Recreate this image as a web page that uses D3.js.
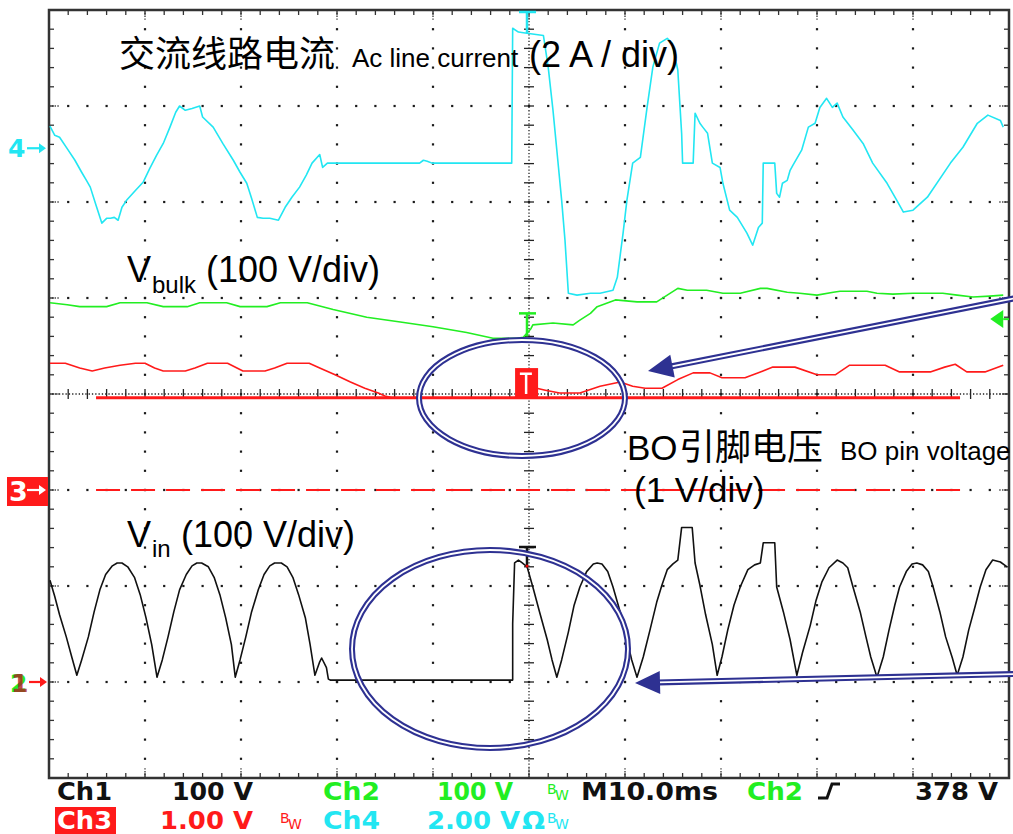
<!DOCTYPE html>
<html lang="zh">
<head>
<meta charset="UTF-8">
<title>BO pin waveform</title>
<script src="https://cdn.jsdelivr.net/npm/d3@7"></script>
<style>
  body { margin: 0; background: #fff; }
  svg { display: block; }
  .lat { font-family: "Liberation Sans", Arial, sans-serif; fill: #000; }
  .cjk { font-family: "Noto Sans CJK SC", sans-serif; fill: #000; }
  .scope { font-family: "DejaVu Sans", sans-serif; font-weight: bold; }
</style>
</head>
<body>
<script>
// 时基与垂直刻度: 10 ms/div, 8 div
const timeRange = [-50, 50];
const divRange = [-4, 4];
// 每通道 单位/div 和 地电平位置(div)
const unitsPerDiv = { ch1: 100, ch2: 100, ch3: 1, ch4: 2 };
const groundDiv = { ch1: -3, ch2: -3, ch3: -1, ch4: 2.56 };

// Ch4 交流线路电流 [ms, A]
const lineCurrent = [
  [-49.9, 0.46], [-49.4, 0.27], [-48.9, 0.23], [-48.0, -0.04], [-47.3, -0.25], [-46.6, -0.5],
  [-46.1, -0.67], [-45.7, -0.81], [-45.1, -1.19], [-44.5, -1.56], [-44.0, -1.46], [-43.6, -1.46],
  [-43.2, -1.44], [-42.8, -1.5], [-42.4, -1.23], [-41.9, -1.08], [-41.0, -0.88], [-40.2, -0.71],
  [-39.5, -0.42], [-38.8, -0.15], [-38.1, 0.1], [-37.4, 0.44], [-36.8, 0.75], [-36.4, 0.88],
  [-35.8, 0.79], [-35.1, 0.83], [-34.3, 0.88], [-34.0, 0.65], [-32.9, 0.44], [-31.9, 0.1],
  [-30.8, -0.25], [-30.1, -0.5], [-29.4, -0.73], [-28.9, -1.04], [-28.3, -1.44], [-27.7, -1.46],
  [-27.0, -1.46], [-26.1, -1.5], [-25.4, -1.23], [-24.7, -1.02], [-23.9, -0.81], [-23.2, -0.56],
  [-22.6, -0.31], [-21.8, -0.13], [-21.5, -0.4], [-21.0, -0.31], [-20.7, -0.31], [-11.4, -0.31],
  [-11.0, -0.25], [-10.6, -0.27], [-10.1, -0.31], [-1.8, -0.31], [-1.7, 2.5], [-1.1, 2.42],
  [-0.4, 2.4], [1.5, 2.35], [2.0, 1.69], [2.5, 0.79], [3.0, -0.25], [3.4, -1.08], [3.75, -1.92],
  [4.1, -3.02], [5.0, -3.06], [6.4, -3.02], [7.4, -3.02], [8.75, -2.96], [9.2, -2.69], [9.8, -1.77],
  [10.2, -1.08], [10.8, -0.31], [11.6, -0.19], [12.3, 0.85], [12.9, 1.69], [13.6, 2.19], [14.4, 2.29],
  [14.9, 2.19], [15.5, 1.63], [15.9, 0.31], [16.0, -0.31], [17.1, -0.31], [17.3, 0.73], [17.8, 0.52],
  [18.1, 0.44], [18.6, 0.31], [19.1, -0.31], [19.9, -0.4], [20.2, -0.73], [20.9, -1.29], [21.7, -1.44],
  [22.7, -1.77], [23.3, -2.02], [23.9, -1.65], [24.3, -1.56], [24.4, -0.31], [25.6, -0.31], [25.8, -0.94],
  [26.1, -1.02], [26.4, -0.73], [26.9, -0.67], [27.2, -0.46], [27.5, -0.35], [28.4, -0.04], [29.1, 0.44],
  [29.8, 0.52], [30.3, 0.85], [31.0, 1.04], [31.6, 0.85], [32.1, 0.94], [32.7, 0.65], [33.75, 0.38],
  [34.8, 0.1], [35.8, -0.31], [37.3, -0.73], [38.3, -1.08], [39.0, -1.33], [40.0, -1.29], [41.5, -1.02],
  [43.9, -0.31], [45.2, 0.02], [46.7, 0.52], [47.8, 0.69], [49.1, 0.58], [49.4, 0.44]
];

// Ch2 Vbulk [ms, V]
const vBulk = [
  [-49.9, 395], [-48.1, 393], [-46.8, 391], [-44.0, 391], [-42.6, 395], [-39.8, 395], [-38.1, 391],
  [-35.6, 391], [-34.3, 395], [-31.5, 395], [-30.1, 391], [-27.3, 391], [-25.9, 395], [-23.1, 395],
  [-20.4, 388], [-16.9, 380], [-13.4, 375], [-10.0, 370], [-6.5, 364], [-3.75, 358], [-1.25, 358],
  [-0.6, 359], [0.2, 368], [0.4, 372], [2.5, 374], [4.6, 372], [5.3, 377], [6.4, 384], [7.1, 391],
  [9.0, 398], [11.25, 396], [13.3, 396], [15.5, 410], [16.5, 408], [18.5, 408], [20.2, 405],
  [22.0, 405], [24.1, 410], [24.8, 410], [26.9, 406], [28.2, 405], [30.0, 403], [31.7, 406],
  [32.4, 407], [35.2, 407], [36.25, 405], [37.9, 404], [40.0, 405], [43.1, 405], [44.6, 403],
  [46.25, 401], [48.0, 402], [49.4, 403]
];

// Ch3 BO引脚电压 [ms, V]
const boPin = [
  [-49.9, 1.32], [-48.3, 1.32], [-46.8, 1.27], [-45.5, 1.24], [-44.2, 1.27], [-42.6, 1.3], [-41.0, 1.32],
  [-40.0, 1.32], [-39.0, 1.27], [-38.1, 1.24], [-35.8, 1.24], [-34.8, 1.27], [-33.5, 1.32], [-31.4, 1.32],
  [-29.8, 1.24], [-27.5, 1.24], [-26.5, 1.27], [-25.2, 1.32], [-22.9, 1.32], [-21.8, 1.27], [-20.2, 1.2],
  [-18.6, 1.125], [-17.1, 1.06], [-15.7, 1.01], [-15.0, 0.98], [-14.3, 0.96], [-1.5, 0.96], [0.8, 1.06],
  [1.7, 1.04], [3.2, 1.01], [5.3, 1.01], [7.4, 1.08], [9.5, 1.125], [10.8, 1.08], [12.1, 1.06],
  [13.85, 1.06], [15.5, 1.15], [17.1, 1.22], [18.85, 1.22], [20.1, 1.17], [22.5, 1.17], [24.1, 1.23],
  [25.4, 1.28], [27.7, 1.28], [30.0, 1.2], [31.9, 1.2], [33.4, 1.3], [37.1, 1.3], [38.6, 1.23],
  [41.8, 1.23], [43.3, 1.28], [44.4, 1.31], [45.6, 1.23], [47.5, 1.23], [49.4, 1.3]
];
// Ch3 参考线: 实线电平与 0 V 虚线 [起 ms, 止 ms, V]
const boRefSolid = [-45.1, 44.9, 0.96];
const boRefDashed = [-45.1, 44.9, 0];

// Ch1 Vin [ms, V]
const vIn = [
  [-49.9, 106], [-49.4, 89], [-48.9, 70], [-48.2, 47], [-47.6, 25], [-47.1, 7], [-46.6, 23], [-45.9, 47],
  [-45.3, 73], [-44.7, 96], [-44.1, 112], [-43.4, 121], [-42.9, 124], [-42.4, 124], [-41.8, 120],
  [-41.1, 109], [-40.5, 91], [-39.9, 67], [-39.3, 39], [-38.75, 5], [-38.2, 23], [-37.6, 47], [-37.0, 73],
  [-36.4, 96], [-35.7, 112], [-35.1, 121], [-34.6, 124], [-34.1, 124], [-33.4, 120], [-32.8, 109],
  [-32.2, 91], [-31.6, 67], [-31.0, 39], [-30.6, 5], [-30.1, 23], [-29.5, 47], [-28.9, 73], [-28.2, 96],
  [-27.6, 112], [-27.0, 121], [-26.5, 124], [-25.8, 124], [-25.2, 120], [-24.6, 109], [-24.0, 91],
  [-23.3, 67], [-22.8, 39], [-22.3, 7], [-21.8, 21], [-21.6, 25], [-21.1, 15], [-20.9, 3], [-20.7, 2],
  [-1.7, 2], [-1.7, 61], [-1.5, 124], [-1.1, 127], [-0.7, 124], [-0.2, 120], [0.4, 99], [1.1, 73],
  [1.9, 44], [2.4, 23], [2.9, 5], [3.4, 23], [4.1, 52], [4.7, 80], [5.3, 99], [6.0, 115], [6.7, 123],
  [7.1, 124], [7.6, 123], [8.2, 115], [8.75, 99], [9.5, 73], [10.2, 44], [10.7, 23], [11.25, 5],
  [11.9, 26], [12.6, 54], [13.3, 83], [13.85, 101], [14.4, 117], [15.0, 123], [15.5, 127], [15.9, 161],
  [17.0, 161], [17.3, 124], [17.8, 101], [18.4, 70], [19.1, 39], [19.6, 7], [20.1, 26], [20.7, 54],
  [21.35, 80], [22.0, 99], [22.8, 117], [23.5, 122], [24.1, 124], [24.4, 145], [25.6, 145], [25.8, 99],
  [26.5, 73], [27.2, 44], [27.9, 7], [28.5, 31], [29.3, 59], [29.9, 85], [30.5, 104], [31.25, 119],
  [32.1, 127], [32.7, 124], [33.2, 119], [33.75, 99], [34.5, 73], [35.1, 47], [35.6, 26], [36.25, 5],
  [36.9, 26], [37.5, 54], [38.1, 80], [38.6, 99], [39.3, 115], [39.9, 123], [40.4, 124], [41.0, 122],
  [41.6, 115], [42.1, 99], [42.8, 73], [43.4, 47], [44.1, 25], [44.6, 7], [45.2, 26], [45.8, 54],
  [46.5, 80], [47.0, 99], [47.6, 117], [48.3, 127], [49.1, 125], [49.8, 120]
];

const triggerLevel = 378; // V, Ch2

// 画布
const width = 1013, height = 834;
const plot = { left: 49, top: 10, width: 960, height: 768 };

const svg = d3.select('body').append('svg')
  .attr('width', width)
  .attr('height', height);

const x = d3.scaleLinear().domain(timeRange).range([plot.left, plot.left + plot.width]);
const y = d3.scaleLinear().domain(divRange).range([plot.top + plot.height, plot.top]);

function chY(ch) {
  return v => y(groundDiv[ch] + v / unitsPerDiv[ch]);
}

// ---- 网格 ----
const grid = svg.append('g').attr('fill', '#1a1a1a');
const majT = d3.range(-4, 5).map(i => i * 10).filter(t => t !== 0);
const majD = d3.range(-3, 4).filter(d => d !== 0);
const minT = d3.range(-24, 25).map(i => i * 2);
const minD = d3.range(-19, 20).map(i => i / 5);

const dots = [];
majT.forEach(t => minD.forEach(d => dots.push([t, d])));
majD.forEach(d => minT.forEach(t => dots.push([t, d])));
grid.selectAll('rect.dot').data(dots).enter().append('rect')
  .attr('class', 'dot')
  .attr('x', d => x(d[0]) - 1.1)
  .attr('y', d => y(d[1]) - 1.1)
  .attr('width', 2.2).attr('height', 2.2);

// 中心十字
const axis = svg.append('g').attr('stroke', '#222').attr('stroke-width', 1.3);
axis.append('line')
  .attr('x1', x(-50)).attr('x2', x(50)).attr('y1', y(0)).attr('y2', y(0))
  .attr('stroke-dasharray', '1.3,2');
axis.append('line')
  .attr('x1', x(0)).attr('x2', x(0)).attr('y1', y(-4)).attr('y2', y(4))
  .attr('stroke-dasharray', '1.3,2');
axis.selectAll('line.tx').data(minT.filter(t => t !== 0)).enter().append('line')
  .attr('x1', d => x(d)).attr('x2', d => x(d))
  .attr('y1', y(0) - 5).attr('y2', y(0) + 5);
axis.selectAll('line.ty').data(minD.filter(d => d !== 0)).enter().append('line')
  .attr('y1', d => y(d)).attr('y2', d => y(d))
  .attr('x1', x(0) - 5).attr('x2', x(0) + 5);

// 边框刻度
const edge = svg.append('g').attr('stroke', '#333').attr('stroke-width', 1.3);
minT.forEach(t => {
  edge.append('line').attr('x1', x(t)).attr('x2', x(t)).attr('y1', y(4)).attr('y2', y(4) + 5);
  edge.append('line').attr('x1', x(t)).attr('x2', x(t)).attr('y1', y(-4)).attr('y2', y(-4) - 5);
});
minD.forEach(d => {
  edge.append('line').attr('y1', y(d)).attr('y2', y(d)).attr('x1', x(-50)).attr('x2', x(-50) + 5);
  edge.append('line').attr('y1', y(d)).attr('y2', y(d)).attr('x1', x(50)).attr('x2', x(50) - 5);
});
majT.concat([0]).forEach(t => {
  edge.append('line').attr('x1', x(t)).attr('x2', x(t)).attr('y1', y(4)).attr('y2', y(4) + 11)
    .attr('stroke-dasharray', '1.3,1.5');
  edge.append('line').attr('x1', x(t)).attr('x2', x(t)).attr('y1', y(-4)).attr('y2', y(-4) - 11)
    .attr('stroke-dasharray', '1.3,1.5');
});
majD.concat([0]).forEach(d => {
  edge.append('line').attr('y1', y(d)).attr('y2', y(d)).attr('x1', x(-50)).attr('x2', x(-50) + 11)
    .attr('stroke-dasharray', '1.3,1.5');
  edge.append('line').attr('y1', y(d)).attr('y2', y(d)).attr('x1', x(50)).attr('x2', x(50) - 11)
    .attr('stroke-dasharray', '1.3,1.5');
});

svg.append('rect')
  .attr('x', plot.left).attr('y', plot.top)
  .attr('width', plot.width).attr('height', plot.height)
  .attr('fill', 'none').attr('stroke', '#333').attr('stroke-width', 2.5);

// ---- Ch3 参考线 ----
const y3 = chY('ch3');
svg.append('line')
  .attr('x1', x(boRefSolid[0])).attr('x2', x(boRefSolid[1]))
  .attr('y1', y3(boRefSolid[2])).attr('y2', y3(boRefSolid[2]))
  .attr('stroke', '#ff1a1a').attr('stroke-width', 3);
svg.append('line')
  .attr('x1', x(boRefDashed[0])).attr('x2', x(boRefDashed[1]))
  .attr('y1', y3(boRefDashed[2])).attr('y2', y3(boRefDashed[2]))
  .attr('stroke', '#ff1a1a').attr('stroke-width', 2.2)
  .attr('stroke-dasharray', '24,11');

// ---- 波形 ----
function trace(data, ch, color) {
  const yc = chY(ch);
  svg.append('path')
    .datum(data)
    .attr('fill', 'none')
    .attr('stroke', color)
    .attr('stroke-width', 1.6)
    .attr('stroke-linejoin', 'round')
    .attr('d', d3.line().x(d => x(d[0])).y(d => yc(d[1])));
}
trace(vBulk, 'ch2', '#22ee22');
trace(boPin, 'ch3', '#ff1a1a');
trace(lineCurrent, 'ch4', '#22e6f2');
trace(vIn, 'ch1', '#111');

// 触发位置标记 T
function tMark(yTop, yBot, color) {
  const g = svg.append('g').attr('stroke', color).attr('stroke-width', 2.5);
  g.append('line').attr('x1', x(0) - 10).attr('x2', x(0) + 7).attr('y1', yTop).attr('y2', yTop);
  g.append('line').attr('x1', x(0) - 2).attr('x2', x(0) - 2).attr('y1', yTop).attr('y2', yBot);
}
tMark(12, 33, '#22e6f2');
const y2 = chY('ch2');
tMark(y2(384), y2(360), '#22ee22');
tMark(547, 566, '#111');
svg.append('rect').attr('x', x(-1.45)).attr('y', y3(1.27))
  .attr('width', 23).attr('height', 29).attr('fill', '#ff1a1a');
svg.append('path')
  .attr('d', `M${x(-0.95)},${y3(1.21)}H${x(0.3)}M${x(-0.3)},${y3(1.21)}V${y3(1.0)}`)
  .attr('stroke', '#fff').attr('stroke-width', 2.5).attr('fill', 'none');
svg.append('circle').attr('cx', x(-0.2)).attr('cy', 566).attr('r', 1.5).attr('fill', '#e00');

// Ch2 触发电平箭头 (右侧)
const yTrig = y2(triggerLevel);
svg.append('path')
  .attr('d', `M${x(49.4) - 13},${yTrig}L${x(49.4)},${yTrig - 9}L${x(49.4)},${yTrig + 9}Z`)
  .attr('fill', '#22ee22');
svg.append('line').attr('x1', x(49.4)).attr('x2', x(50)).attr('y1', yTrig).attr('y2', yTrig)
  .attr('stroke', '#22ee22').attr('stroke-width', 2);

// ---- 左侧通道地标记 ----
function arrow(g, x0, x1, yy, color) {
  g.append('line').attr('x1', x0).attr('x2', x1 - 4).attr('y1', yy).attr('y2', yy)
    .attr('stroke', color).attr('stroke-width', 2.2);
  g.append('path').attr('d', `M${x1},${yy}L${x1 - 7},${yy - 5}L${x1 - 7},${yy + 5}Z`).attr('fill', color);
}
const mk = svg.append('g');
const y4g = chY('ch4')(0);
mk.append('text').attr('class', 'scope').attr('x', 8).attr('y', y4g + 9)
  .attr('font-size', 25).attr('fill', '#22e6f2').text('4');
arrow(mk, 27, 46, y4g, '#22e6f2');

const y3g = y3(0);
mk.append('rect').attr('x', 7).attr('y', y3g - 13).attr('width', 41).attr('height', 29).attr('fill', '#ff1a1a');
mk.append('text').attr('class', 'scope').attr('x', 9).attr('y', y3g + 11)
  .attr('font-size', 27).attr('fill', '#fff').text('3');
arrow(mk, 27, 46, y3g, '#fff');

const y1g = chY('ch1')(0);
mk.append('text').attr('class', 'scope').attr('x', 10).attr('y', y1g + 10)
  .attr('font-size', 25).attr('fill', '#22ee22').text('2');
mk.append('text').attr('class', 'scope').attr('x', 11).attr('y', y1g + 10)
  .attr('font-size', 25).attr('fill', '#b02020').attr('opacity', 0.8).text('1');
arrow(mk, 29, 47, y1g, '#ff1a1a');

// ---- 说明文字 ----
svg.append('text').attr('class', 'cjk').attr('x', 119).attr('y', 67)
  .attr('font-size', 36).text('交流线路电流');
svg.append('text').attr('class', 'lat').attr('x', 352).attr('y', 67)
  .attr('font-size', 26).text('Ac line current');
svg.append('text').attr('class', 'lat').attr('x', 529).attr('y', 67)
  .attr('font-size', 36).text('(2 A / div)');

svg.append('text').attr('class', 'lat').attr('x', 127).attr('y', 282).attr('font-size', 36).text('V');
svg.append('text').attr('class', 'lat').attr('x', 152).attr('y', 293).attr('font-size', 24).text('bulk');
svg.append('text').attr('class', 'lat').attr('x', 206).attr('y', 282).attr('font-size', 36).text('(100 V/div)');

svg.append('text').attr('class', 'lat').attr('x', 127).attr('y', 547).attr('font-size', 36).text('V');
svg.append('text').attr('class', 'lat').attr('x', 152).attr('y', 557).attr('font-size', 24).text('in');
svg.append('text').attr('class', 'lat').attr('x', 181).attr('y', 547).attr('font-size', 36).text('(100 V/div)');

svg.append('text').attr('class', 'lat').attr('x', 627).attr('y', 460).attr('font-size', 35).text('BO');
svg.append('text').attr('class', 'cjk').attr('x', 679).attr('y', 460).attr('font-size', 36).text('引脚电压');
svg.append('text').attr('class', 'lat').attr('x', 840).attr('y', 460).attr('font-size', 26).text('BO pin voltage');
svg.append('text').attr('class', 'lat').attr('x', 634).attr('y', 502).attr('font-size', 35).text('(1 V/div)');

// ---- 标注: 椭圆与箭头 ----
const navy = '#2e3192';
function dblEllipse(cx, cy, rx, ry) {
  svg.append('ellipse').attr('cx', cx).attr('cy', cy).attr('rx', rx).attr('ry', ry)
    .attr('fill', 'none').attr('stroke', navy).attr('stroke-width', 6);
  svg.append('ellipse').attr('cx', cx).attr('cy', cy).attr('rx', rx).attr('ry', ry)
    .attr('fill', 'none').attr('stroke', '#fff').attr('stroke-width', 1.8);
}
dblEllipse(522, 398, 103, 58);
dblEllipse(490, 649, 138, 99);

function dblArrow(x0, y0, tx, ty) {
  const dx = tx - x0, dy = ty - y0;
  const len = Math.sqrt(dx * dx + dy * dy);
  const ux = dx / len, uy = dy / len;
  const bx = tx - ux * 25, by = ty - uy * 25;
  svg.append('line').attr('x1', x0).attr('y1', y0).attr('x2', bx + ux * 2).attr('y2', by + uy * 2)
    .attr('stroke', navy).attr('stroke-width', 6);
  svg.append('line').attr('x1', x0).attr('y1', y0).attr('x2', bx + ux * 2).attr('y2', by + uy * 2)
    .attr('stroke', '#fff').attr('stroke-width', 1.8);
  svg.append('path')
    .attr('d', `M${tx},${ty}L${bx - uy * 11.5},${by + ux * 11.5}L${bx + uy * 11.5},${by - ux * 11.5}Z`)
    .attr('fill', navy);
}
dblArrow(1016, 298, 648, 371);
dblArrow(1016, 674, 635, 683);

// ---- 底部状态栏 ----
const st = svg.append('g').attr('class', 'scope').attr('font-size', 25);
function stText(tx, ty, txt, color, len) {
  const t = st.append('text').attr('x', tx).attr('y', ty).attr('fill', color).text(txt);
  if (len) t.attr('textLength', len).attr('lengthAdjust', 'spacingAndGlyphs');
  return t;
}
function bw(tx, ty, color) {
  st.append('text').attr('x', tx).attr('y', ty - 6).attr('font-size', 14).attr('font-weight', 'normal')
    .attr('fill', color).text('B');
  st.append('text').attr('x', tx + 8).attr('y', ty).attr('font-size', 14).attr('font-weight', 'normal')
    .attr('fill', color).text('W');
}
const r1 = 800, r2 = 829;
stText(57, r1, 'Ch1', '#111', 55);
stText(172, r1, '100 V', '#111', 81);
stText(323, r1, 'Ch2', '#22ee22', 57);
stText(437, r1, '100 V', '#22ee22', 76);
bw(547, r1, '#22ee22');
stText(581, r1, 'M10.0ms', '#111', 137);
stText(747, r1, 'Ch2', '#22ee22', 56);
st.append('path').attr('d', 'M818,798H827L832,784H840')
  .attr('fill', 'none').attr('stroke', '#111').attr('stroke-width', 3);
stText(915, r1, '378 V', '#111', 83);

st.append('rect').attr('x', 55).attr('y', 807).attr('width', 61).attr('height', 27).attr('fill', '#ff1a1a');
stText(57, r2, 'Ch3', '#fff', 55);
stText(160, r2, '1.00 V', '#ff1a1a', 93);
bw(280, r2, '#ff1a1a');
stText(323, r2, 'Ch4', '#22e6f2', 57);
stText(427, r2, '2.00 V', '#22e6f2', 93);
stText(522, r2, 'Ω', '#22e6f2', 23);
bw(547, r2, '#22e6f2');
</script>
</body>
</html>
